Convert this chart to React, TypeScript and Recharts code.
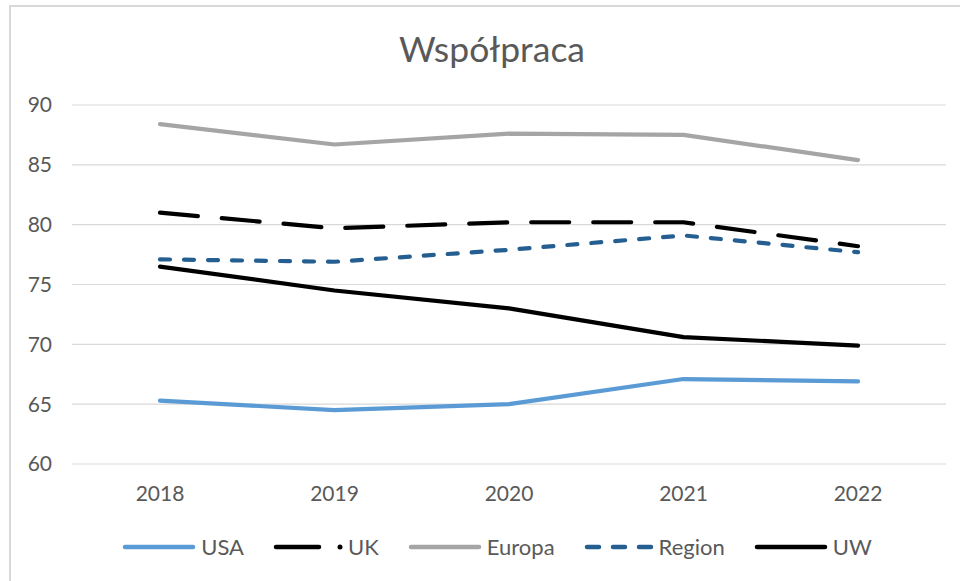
import React from 'react'
import { LineChart, Line, XAxis, YAxis, CartesianGrid } from 'recharts'

const YEARS = ['2018', '2019', '2020', '2021', '2022']
const USA = [65.3, 64.5, 65.0, 67.1, 66.9]
const UK = [81.0, 79.7, 80.2, 80.2, 78.2]
const EUROPA = [88.4, 86.7, 87.6, 87.5, 85.4]
const REGION = [77.1, 76.9, 77.9, 79.1, 77.7]
const UW = [76.5, 74.5, 73.0, 70.6, 69.9]
const Y_TICKS = [60, 65, 70, 75, 80, 85, 90]

const FONT = 'Lato, "Open Sans", sans-serif'
const TEXT = '#595959'

const SERIES = [
  { key: 'USA', color: '#5b9bd5', dash: undefined as string | undefined },
  { key: 'UK', color: '#000000', dash: '38 24' },
  { key: 'Europa', color: '#a5a5a5', dash: undefined },
  { key: 'Region', color: '#255e91', dash: '10 14' },
  { key: 'UW', color: '#000000', dash: undefined },
]

const data = YEARS.map((year, i) => ({
  year,
  USA: USA[i],
  UK: UK[i],
  Europa: EUROPA[i],
  Region: REGION[i],
  UW: UW[i],
}))

function LegendSample({ color, kind }: { color: string; kind: string }) {
  if (kind === 'UK') {
    return (
      <svg width={70} height={12}>
        <line x1={3} y1={6} x2={46} y2={6} stroke={color} strokeWidth={4.5} strokeLinecap="round" />
        <circle cx={67} cy={6} r={2.5} fill={color} />
      </svg>
    )
  }
  if (kind === 'Region') {
    return (
      <svg width={70} height={12}>
        <line x1={3} y1={6} x2={67} y2={6} stroke={color} strokeWidth={4.5}
          strokeLinecap="round" strokeDasharray="12 14" />
      </svg>
    )
  }
  return (
    <svg width={74} height={12}>
      <line x1={3} y1={6} x2={71} y2={6} stroke={color} strokeWidth={4.5} strokeLinecap="round" />
    </svg>
  )
}

export default function App() {
  return (
    <div style={{ position: 'absolute', left: 0, top: 0, width: 960, height: 581, background: '#fff', overflow: 'hidden', fontFamily: FONT }}>
      {/* frame */}
      <div style={{ position: 'absolute', left: 9, top: 5, width: 1000, height: 700, borderLeft: '2px solid #d9d9d9', borderTop: '2px solid #d9d9d9' }} />

      {/* title */}
      <div style={{ position: 'absolute', left: 0, top: 28, width: 984, textAlign: 'center', fontSize: 35.5, lineHeight: '42px', color: TEXT }}>
        Współpraca
      </div>

      <div style={{ position: 'absolute', left: 0, top: 0 }}>
        <LineChart width={960} height={581} data={data} margin={{ top: 105, right: 14, bottom: 87, left: 0 }}>
          <CartesianGrid vertical={false} stroke="#d9d9d9" strokeWidth={1.2} />
          <XAxis
            dataKey="year"
            axisLine={false}
            tickLine={false}
            padding={{ left: 88, right: 88 }}
            tickMargin={16}
            tick={{ fontSize: 21, fill: TEXT, fontFamily: FONT }}
          />
          <YAxis
            domain={[60, 90]}
            ticks={Y_TICKS}
            width={72}
            axisLine={false}
            tickLine={false}
            tickMargin={14}
            tick={{ fontSize: 21, fill: TEXT, fontFamily: FONT }}
          />
          {SERIES.map(s => (
            <Line
              key={s.key}
              type="linear"
              dataKey={s.key}
              stroke={s.color}
              strokeWidth={4.2}
              strokeDasharray={s.dash}
              strokeLinecap="round"
              strokeLinejoin="round"
              dot={false}
              activeDot={false}
              isAnimationActive={false}
            />
          ))}
        </LineChart>
      </div>

      {/* legend */}
      <div style={{ position: 'absolute', left: 0, top: 533, width: 994, display: 'flex', justifyContent: 'center', alignItems: 'center', gap: 29, fontSize: 22, color: TEXT }}>
        {SERIES.map(s => (
          <div key={s.key} style={{ display: 'flex', alignItems: 'center', gap: 5 }}>
            <LegendSample color={s.color} kind={s.key} />
            <span>{s.key}</span>
          </div>
        ))}
      </div>
    </div>
  )
}
